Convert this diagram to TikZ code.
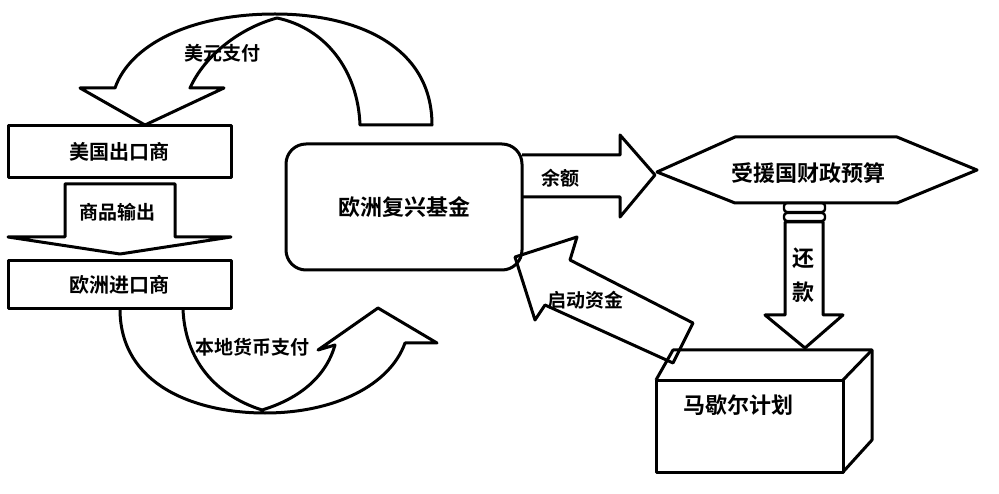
\documentclass[tikz,border=0pt]{standalone}
\usepackage{fontspec}
\newfontfamily\cjk{Noto Sans CJK SC Bold}
\begin{document}
\begin{tikzpicture}[x=1pt,y=-1pt,line width=3pt,line join=round,
  lbl/.style={font=\cjk\fontsize{22}{22}\selectfont,inner sep=0pt},
  mlbl/.style={font=\cjk\fontsize{20}{20}\selectfont,inner sep=0pt},
  slbl/.style={font=\cjk\fontsize{19}{19}\selectfont,inner sep=0pt}]
\useasboundingbox[fill=white] (0,0) rectangle (999,494);
% top curved arrow
\draw (432,125) .. controls (432,45) and (355,14) .. (275,14) .. controls (190,14) and (130,45) .. (115,88)
  -- (80,88) -- (145,125) -- (224,88) -- (190,88) .. controls (205,55) and (240,28) .. (277,18)
  .. controls (325,28) and (358,70) .. (360,125) -- cycle;
% bottom curved arrow
\draw (120,309) .. controls (120,385) and (195,413) .. (265,413) .. controls (335,413) and (390,385) .. (405,343)
  -- (437,343) -- (378,308) -- (318,350) -- (335,345) .. controls (325,380) and (295,400) .. (262,410)
  .. controls (215,395) and (185,360) .. (183,309);
% boxes
\node[draw,minimum width=223pt,minimum height=52pt,mlbl,fill=white] (us) at (119.5,152) {美国出口商};
\node[draw,minimum width=223pt,minimum height=48pt,mlbl,fill=white] (eu) at (119.5,285) {欧洲进口商};
\draw[fill=white] (65,184) -- (175,184) -- (175,237) -- (231,237) -- (120,254) -- (8,237) -- (65,237) -- cycle;
\node[slbl] (goods) at (117,212) {商品输出};
\node[draw,rounded corners=20pt,minimum width=236pt,minimum height=126pt,lbl] (fund) at (404,207) {欧洲复兴基金};
% surplus arrow
\draw (522,155) -- (620,155) -- (620,135) -- (655,175) -- (620,217) -- (620,197) -- (522,197);
\node[slbl] (sur) at (560,178) {余额};
% hexagon
\draw (657,172) -- (735,137) -- (897,137) -- (977,170) -- (897,203) -- (735,203) -- cycle;
\node[lbl] (budget) at (808,173) {受援国财政预算};
% rings
\draw[rounded corners=3pt,line width=2.4pt] (784,203) rectangle (825,212);
\draw[rounded corners=3pt,line width=2.4pt] (784,213) rectangle (825,221);
% repay arrow
\draw (785,222) -- (823,222) -- (823,315) -- (843,315) -- (805,348) -- (765,315) -- (785,315) -- cycle;
\node[lbl] (r1) at (803,258) {还};
\node[lbl] (r2) at (803,292) {款};
% 3D box
\draw (656,380) rectangle (843,472);
\draw (656,380) -- (673,350) -- (872,350) -- (872,440) -- (843,472);
\draw (843,380) -- (872,350);
\node[lbl] (mp) at (738,405) {马歇尔计划};
% start capital arrow
\draw (673,363) -- (545,305) -- (535,320) -- (515,257) -- (577,237) -- (570,260) -- (693,323) -- cycle;
\node[slbl] (sc) at (585,300) {启动资金};
% labels
\node[slbl] (usd) at (222,53) {美元支付};
\node[slbl] (loc) at (252,347) {本地货币支付};
\end{tikzpicture}
\end{document}
